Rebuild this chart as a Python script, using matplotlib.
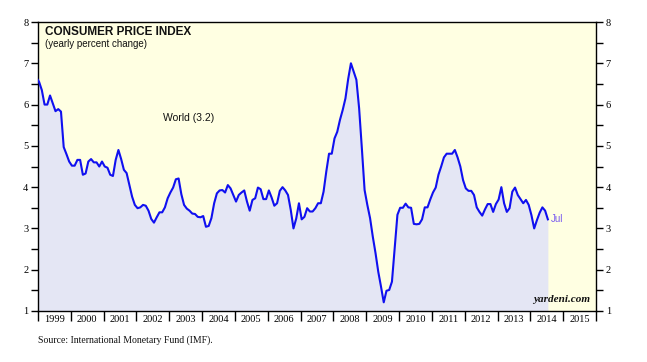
import numpy as np
import matplotlib
matplotlib.use("Agg")
import matplotlib.pyplot as plt
from matplotlib.ticker import MultipleLocator, FixedLocator, NullFormatter

# World CPI, yearly percent change, monthly Dec 1998 .. Jul 2014
start_year = 1998
start_month = 12
cpi = [
    6.65,
    6.55, 6.35, 6.00, 6.00, 6.22, 6.03, 5.84, 5.89, 5.83, 4.97, 4.80, 4.62,   # 1999
    4.52, 4.52, 4.66, 4.66, 4.30, 4.33, 4.62, 4.68, 4.60, 4.60, 4.50, 4.62,   # 2000
    4.50, 4.47, 4.30, 4.27, 4.66, 4.90, 4.68, 4.42, 4.34, 4.05, 3.77, 3.57,   # 2001
    3.49, 3.51, 3.57, 3.55, 3.43, 3.23, 3.14, 3.27, 3.39, 3.39, 3.51, 3.73,   # 2002
    3.87, 3.99, 4.19, 4.21, 3.83, 3.57, 3.48, 3.43, 3.36, 3.35, 3.28, 3.27,   # 2003
    3.30, 3.04, 3.06, 3.25, 3.61, 3.85, 3.92, 3.93, 3.87, 4.05, 3.97, 3.81,   # 2004
    3.65, 3.81, 3.87, 3.92, 3.65, 3.43, 3.69, 3.73, 3.99, 3.95, 3.71, 3.71,   # 2005
    3.92, 3.75, 3.55, 3.61, 3.91, 4.00, 3.92, 3.81, 3.45, 3.00, 3.24, 3.61,   # 2006
    3.22, 3.28, 3.49, 3.41, 3.41, 3.49, 3.61, 3.61, 3.89, 4.38, 4.81, 4.81,   # 2007
    5.18, 5.34, 5.63, 5.87, 6.15, 6.62, 7.00, 6.80, 6.60, 5.91, 4.94, 3.93,   # 2008
    3.57, 3.25, 2.80, 2.40, 1.95, 1.59, 1.21, 1.49, 1.51, 1.71, 2.52, 3.33,   # 2009
    3.50, 3.50, 3.60, 3.51, 3.50, 3.11, 3.10, 3.11, 3.22, 3.51, 3.51, 3.70,   # 2010
    3.87, 3.99, 4.30, 4.50, 4.72, 4.81, 4.81, 4.81, 4.90, 4.72, 4.50, 4.17,   # 2011
    3.97, 3.91, 3.91, 3.81, 3.51, 3.40, 3.31, 3.46, 3.59, 3.59, 3.40, 3.59,   # 2012
    3.70, 4.00, 3.61, 3.40, 3.49, 3.89, 3.99, 3.81, 3.71, 3.61, 3.69, 3.57,   # 2013
    3.32, 3.00, 3.20, 3.38, 3.51, 3.43, 3.22,                                 # 2014
]
year_labels = [str(y) for y in range(1999, 2016)]
y_ticks = [1, 2, 3, 4, 5, 6, 7, 8]

title = "CONSUMER PRICE INDEX"
subtitle = "(yearly percent change)"
series_label = "World (3.2)"
last_label = "Jul"
source = "Source: International Monetary Fund (IMF)."
brand = "yardeni.com"

# time axis (mid-month-ish positions)
t = np.array([start_year + (start_month - 1 + i + 0.4) / 12.0 for i in range(len(cpi))])
v = np.array(cpi)

W, H = 647, 362
fig = plt.figure(figsize=(W / 100, H / 100), dpi=100)
fig.patch.set_facecolor("white")
ax = fig.add_axes([38 / W, (H - 311) / H, (596 - 38) / W, (311 - 22) / H])
ax.set_facecolor("#FFFFE2")

ax.fill_between(t, 1, v, color="#E4E6F4", lw=0, zorder=1)
ax.plot(t, v, color="#1010F0", lw=1.5, zorder=3, solid_joinstyle="round")

ax.set_xlim(1999, 2016)
ax.set_ylim(1, 8)

# y axis both sides
ax.yaxis.set_major_locator(FixedLocator(y_ticks))
ax.yaxis.set_minor_locator(MultipleLocator(0.5))
ax.tick_params(axis="y", which="both", direction="out", left=True, right=True,
               labelleft=True, labelright=True, width=1.0, color="black")
ax.tick_params(axis="y", which="major", length=5, pad=2, labelsize=7.5)
ax.tick_params(axis="y", which="minor", length=5)
for lab in ax.get_yticklabels():
    lab.set_family("Liberation Serif")

# x axis: ticks at year boundaries, labels centered in year
ax.xaxis.set_major_locator(FixedLocator(list(range(1999, 2017))))
ax.xaxis.set_major_formatter(NullFormatter())
ax.xaxis.set_minor_locator(FixedLocator([y + 0.5 for y in range(1999, 2016)]))
ax.set_xticklabels(year_labels, minor=True, family="Liberation Serif", fontsize=7.5)
ax.tick_params(axis="x", which="major", direction="out", length=7, width=1.0, color="black")
ax.tick_params(axis="x", which="minor", length=0, pad=3)

for sp in ax.spines.values():
    sp.set_color("black")
    sp.set_linewidth(1.0)

ax.text(0.013, 0.967, title, transform=ax.transAxes, ha="left", va="center",
        family="Liberation Sans", fontweight="bold", fontsize=8.5, color="#111111")
ax.text(0.013, 0.925, subtitle, transform=ax.transAxes, ha="left", va="center",
        family="Liberation Sans", fontsize=7, color="#111111")
ax.text(2002.82, 5.67, series_label, ha="left", va="center",
        family="Liberation Sans", fontsize=7.5, color="#111111")
ax.text(t[-1] + 0.1, v[-1], last_label, ha="left", va="center",
        family="Liberation Sans", fontsize=7, color="#7A5CF0")
ax.text(0.99, 0.025, brand, transform=ax.transAxes, ha="right", va="bottom",
        family="Liberation Serif", fontweight="bold", fontstyle="italic", fontsize=8, color="#111111")

fig.text(38 / W, 1 - 340 / H, source, ha="left", va="center",
         family="Liberation Serif", fontsize=7, color="#111111")

fig.savefig("out.png", dpi=100, facecolor="white")
